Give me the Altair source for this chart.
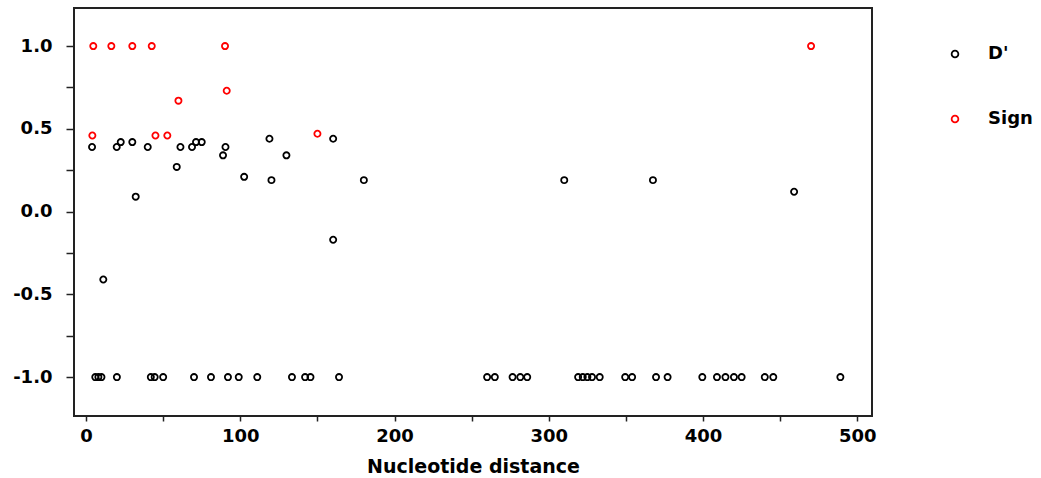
import altair as alt
import pandas as pd

# D' values
dprime_x = [3.9, 19.9, 22.5, 30, 40, 61.2, 68.7, 71.3, 75, 90.4, 88.8, 58.8, 102.5, 32.2,
            118.9, 120.2, 129.9, 160.2, 180.1, 160.2, 310, 367.5, 459, 11.2,
            6, 8, 10, 20, 42, 44.5, 50, 70, 81, 92, 99, 111, 133.5, 142, 145.5, 164,
            260, 265, 276.5, 281.5, 286, 319, 322, 325, 328, 333, 349.5, 354, 369.5, 377,
            399.5, 409, 414.5, 420, 425, 440, 445.5, 489]
dprime_y = [0.39, 0.39, 0.42, 0.42, 0.39, 0.39, 0.39, 0.42, 0.42, 0.39, 0.34, 0.27, 0.21, 0.09,
            0.44, 0.19, 0.34, 0.44, 0.19, -0.17, 0.19, 0.19, 0.12, -0.41,
            -1, -1, -1, -1, -1, -1, -1, -1, -1, -1, -1, -1, -1, -1, -1, -1,
            -1, -1, -1, -1, -1, -1, -1, -1, -1, -1, -1, -1, -1, -1,
            -1, -1, -1, -1, -1, -1, -1, -1]

# Sign values
sign_x = [4.7, 16.4, 30, 42.6, 90.1, 91.2, 59.9, 4.1, 45, 52.7, 150, 470]
sign_y = [1.0, 1.0, 1.0, 1.0, 1.0, 0.73, 0.67, 0.46, 0.46, 0.46, 0.47, 1.0]

series_names = ["D'", "Sign"]
series_colors = ["#000000", "#ff0000"]

x_ticks = [0, 50, 100, 150, 200, 250, 300, 350, 400, 450, 500]
y_ticks = [-1.0, -0.75, -0.5, -0.25, 0.0, 0.25, 0.5, 0.75, 1.0]

df = pd.concat([
    pd.DataFrame({"x": dprime_x, "y": dprime_y, "series": series_names[0]}),
    pd.DataFrame({"x": sign_x, "y": sign_y, "series": series_names[1]}),
], ignore_index=True)

FONT = "DejaVu Sans"

chart = alt.Chart(df).mark_point(
    filled=False, shape="circle", size=38, strokeWidth=1.8, opacity=1
).encode(
    x=alt.X("x:Q",
            scale=alt.Scale(domain=[-7.8, 509.5], nice=False, zero=False),
            axis=alt.Axis(values=x_ticks, title="Nucleotide distance",
                          labelExpr="datum.value % 100 == 0 ? datum.label : ''",
                          format="d", tickSize=5, labelPadding=6, titlePadding=12,
                          titleFontSize=19,
                          domain=False, grid=False)),
    y=alt.Y("y:Q",
            scale=alt.Scale(domain=[-1.235, 1.23], nice=False, zero=False),
            axis=alt.Axis(values=y_ticks, title=None, format=".1f",
                          labelExpr="abs(round(datum.value*4)) % 2 == 0 ? replace(datum.label, '\u2212', '-') : ''",
                          tickSize=8, labelPadding=14,
                          domain=False, grid=False)),
    color=alt.Color("series:N",
                    scale=alt.Scale(domain=series_names, range=series_colors),
                    legend=alt.Legend(title=None, orient="none", legendX=872, legendY=37,
                                      symbolType="circle", symbolSize=45,
                                      symbolStrokeWidth=1.8, labelOffset=24,
                                      rowPadding=47, padding=0,
                                      labelFont=FONT, labelFontSize=18,
                                      labelFontWeight="bold", labelColor="#000")),
).properties(
    width=798, height=408,
    background="white",
    autosize=alt.AutoSizeParams(type="none"),
    padding={"left": 74, "top": 8, "right": 169, "bottom": 62},
).configure_view(
    stroke="#222222", strokeWidth=2
).configure_axis(
    labelFont=FONT, labelFontSize=18, labelFontWeight="bold", labelColor="#000",
    titleFont=FONT, titleFontSize=18, titleFontWeight="bold", titleColor="#000",
    tickColor="#222", tickWidth=1.5,
)

chart.save("out.html", embed_options={"renderer": "svg", "actions": False})
